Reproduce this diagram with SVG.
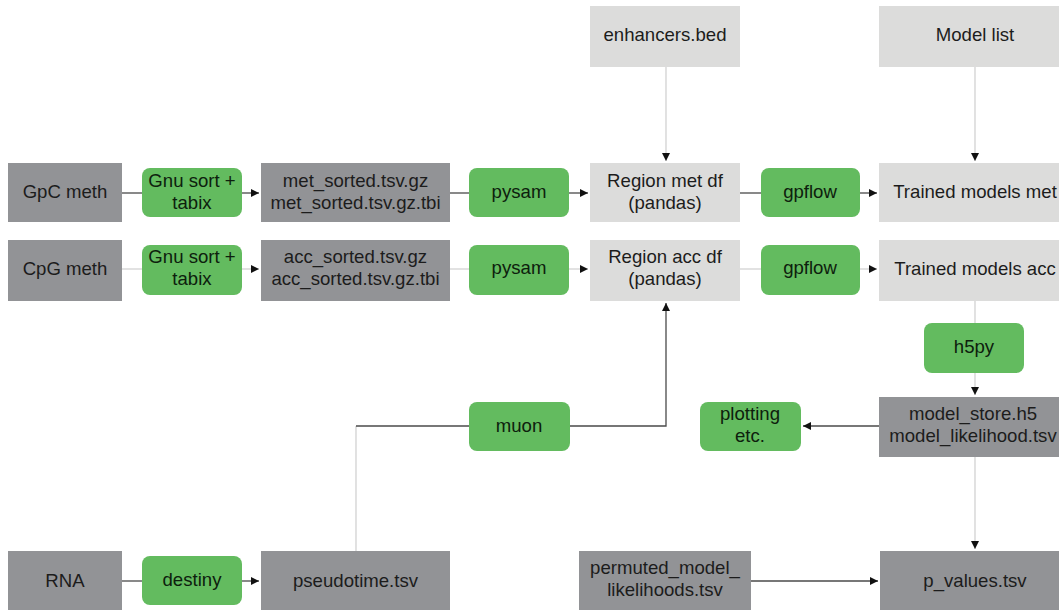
<svg xmlns="http://www.w3.org/2000/svg" width="1059" height="610" viewBox="0 0 1059 610">
  <defs>
    <marker id="arrow" markerUnits="userSpaceOnUse" markerWidth="9" markerHeight="9" refX="8" refY="4" orient="auto">
      <path d="M0,0 L8,4 L0,8 z" fill="#111"/>
    </marker>
    <style>
      text { font-family: "Liberation Sans", Arial, sans-serif; font-size: 18.6px; fill: #1c1c1c; text-anchor: middle; }
      .dark { fill: #929396; }
      .light { fill: #dcdcdb; }
      .tool { fill: #63bb5f; }
      .tool-text { fill: #0d200d; }
      .c-dark { stroke: #4a4a4a; stroke-width: 1.3; fill: none; }
      .c-light { stroke: #d2d2d2; stroke-width: 1.3; fill: none; }
    </style>
  </defs>
  <rect width="1059" height="610" fill="#ffffff"/>

  <!-- connectors -->
  <g id="connectors">
    <!-- methylation row -->
    <path class="c-dark" d="M122,193 H142"/>
    <path class="c-dark" d="M242,193 H259" marker-end="url(#arrow)"/>
    <path class="c-dark" d="M450,193 H469"/>
    <path class="c-dark" d="M569,193 H588" marker-end="url(#arrow)"/>
    <path class="c-dark" d="M740,193 H761"/>
    <path class="c-dark" d="M860,193 H877" marker-end="url(#arrow)"/>
    <!-- accessibility row -->
    <path class="c-light" d="M122,269 H142"/>
    <path class="c-light" d="M242,269 H259" marker-end="url(#arrow)"/>
    <path class="c-light" d="M450,269 H469"/>
    <path class="c-light" d="M569,269 H588" marker-end="url(#arrow)"/>
    <path class="c-light" d="M740,269 H761"/>
    <path class="c-light" d="M860,269 H877" marker-end="url(#arrow)"/>
    <!-- region / model inputs -->
    <path class="c-light" d="M666,67 V161" marker-end="url(#arrow)"/>
    <path class="c-light" d="M975,67 V161" marker-end="url(#arrow)"/>
    <!-- pseudotime to region acc df -->
    <path class="c-light" d="M356,551 V426"/>
    <path class="c-dark" d="M356,426 H469"/>
    <path class="c-dark" d="M570,426 H666 V303" marker-end="url(#arrow)"/>
    <!-- model storage -->
    <path class="c-light" d="M975,301 V323"/>
    <path class="c-light" d="M975,373 V395" marker-end="url(#arrow)"/>
    <path class="c-dark" d="M879,426 H803" marker-end="url(#arrow)"/>
    <path class="c-light" d="M975,457 V549" marker-end="url(#arrow)"/>
    <path class="c-dark" d="M751,581 H878" marker-end="url(#arrow)"/>
    <!-- RNA row -->
    <path class="c-dark" d="M122,581 H142"/>
    <path class="c-dark" d="M242,581 H259" marker-end="url(#arrow)"/>
  </g>

  <!-- inputs -->
  <g id="gpc-meth">
    <rect class="dark" x="8" y="163" width="114" height="59"/>
    <text x="65" y="198">GpC meth</text>
  </g>
  <g id="cpg-meth">
    <rect class="dark" x="8" y="240" width="114" height="61"/>
    <text x="65" y="275">CpG meth</text>
  </g>
  <g id="rna">
    <rect class="dark" x="8" y="551" width="114" height="62"/>
    <text x="65" y="587">RNA</text>
  </g>
  <g id="enhancers-bed">
    <rect class="light" x="590" y="6" width="150" height="61"/>
    <text x="665" y="41">enhancers.bed</text>
  </g>
  <g id="model-list">
    <rect class="light" x="879" y="6" width="192" height="61"/>
    <text x="975" y="41">Model list</text>
  </g>

  <!-- tools -->
  <g id="gnu-sort-met">
    <rect class="tool" x="142" y="168" width="100" height="49" rx="8"/>
    <text class="tool-text" x="192" y="187">Gnu sort +</text>
    <text class="tool-text" x="192" y="209">tabix</text>
  </g>
  <g id="gnu-sort-acc">
    <rect class="tool" x="142" y="245" width="100" height="50" rx="8"/>
    <text class="tool-text" x="192" y="263">Gnu sort +</text>
    <text class="tool-text" x="192" y="285">tabix</text>
  </g>
  <g id="pysam-met">
    <rect class="tool" x="469" y="168" width="100" height="49" rx="8"/>
    <text class="tool-text" x="519" y="198">pysam</text>
  </g>
  <g id="pysam-acc">
    <rect class="tool" x="469" y="245" width="100" height="50" rx="8"/>
    <text class="tool-text" x="519" y="274">pysam</text>
  </g>
  <g id="gpflow-met">
    <rect class="tool" x="761" y="168" width="99" height="49" rx="8"/>
    <text class="tool-text" x="810" y="198">gpflow</text>
  </g>
  <g id="gpflow-acc">
    <rect class="tool" x="761" y="245" width="99" height="50" rx="8"/>
    <text class="tool-text" x="810" y="274">gpflow</text>
  </g>
  <g id="muon">
    <rect class="tool" x="469" y="402" width="101" height="49" rx="8"/>
    <text class="tool-text" x="519" y="432">muon</text>
  </g>
  <g id="h5py">
    <rect class="tool" x="924" y="323" width="100" height="50" rx="8"/>
    <text class="tool-text" x="974" y="353">h5py</text>
  </g>
  <g id="plotting">
    <rect class="tool" x="700" y="402" width="101" height="49" rx="8"/>
    <text class="tool-text" x="750" y="420">plotting</text>
    <text class="tool-text" x="750" y="442">etc.</text>
  </g>
  <g id="destiny">
    <rect class="tool" x="142" y="556" width="100" height="49" rx="8"/>
    <text class="tool-text" x="192" y="586">destiny</text>
  </g>

  <!-- intermediate files -->
  <g id="met-sorted">
    <rect class="dark" x="261" y="163" width="189" height="59"/>
    <text x="355.5" y="187">met_sorted.tsv.gz</text>
    <text x="355.5" y="209">met_sorted.tsv.gz.tbi</text>
  </g>
  <g id="acc-sorted">
    <rect class="dark" x="261" y="240" width="189" height="61"/>
    <text x="355.5" y="263">acc_sorted.tsv.gz</text>
    <text x="355.5" y="285">acc_sorted.tsv.gz.tbi</text>
  </g>
  <g id="pseudotime">
    <rect class="dark" x="261" y="551" width="189" height="62"/>
    <text x="355.5" y="587">pseudotime.tsv</text>
  </g>
  <g id="region-met-df">
    <rect class="light" x="590" y="163" width="150" height="59"/>
    <text x="665" y="187">Region met df</text>
    <text x="665" y="209">(pandas)</text>
  </g>
  <g id="region-acc-df">
    <rect class="light" x="590" y="240" width="150" height="61"/>
    <text x="665" y="263">Region acc df</text>
    <text x="665" y="285">(pandas)</text>
  </g>
  <g id="trained-met">
    <rect class="light" x="879" y="163" width="192" height="59"/>
    <text x="975" y="198">Trained models met</text>
  </g>
  <g id="trained-acc">
    <rect class="light" x="879" y="240" width="192" height="61"/>
    <text x="975" y="275">Trained models acc</text>
  </g>
  <g id="model-store">
    <rect class="dark" x="879" y="397" width="192" height="60"/>
    <text x="973" y="420">model_store.h5</text>
    <text x="973" y="442">model_likelihood.tsv</text>
  </g>
  <g id="permuted">
    <rect class="dark" x="579" y="551" width="172" height="62"/>
    <text x="665" y="574">permuted_model_</text>
    <text x="665" y="596">likelihoods.tsv</text>
  </g>
  <g id="p-values">
    <rect class="dark" x="880" y="551" width="191" height="62"/>
    <text x="975" y="587">p_values.tsv</text>
  </g>
</svg>
